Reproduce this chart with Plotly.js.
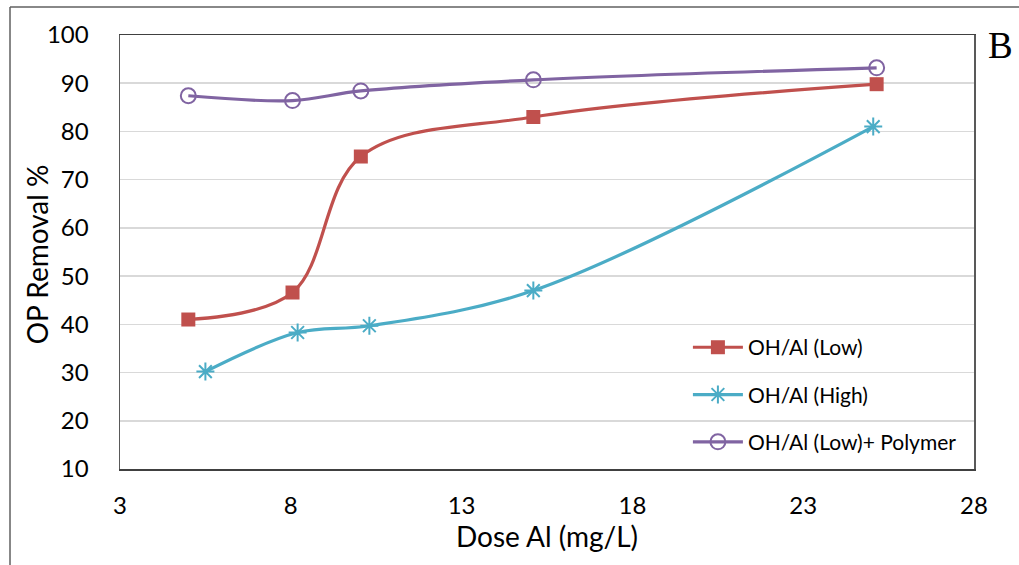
<!DOCTYPE html>
<html>
<head>
<meta charset="utf-8">
<script src="https://cdn.plot.ly/plotly-3.0.1.min.js"></script>
<style>html,body{margin:0;padding:0;background:#fff;}#chart{width:1019px;height:565px;}</style>
</head>
<body>
<div id="chart"></div>
<script>
// Data
const doseLow = [5.0, 8.05, 10.05, 15.1, 25.15];
const removalLow = [41.0, 46.6, 74.8, 83.0, 89.8];
const doseHigh = [5.5, 8.2, 10.3, 15.1, 25.05];
const removalHigh = [30.2, 38.3, 39.7, 47.0, 81.0];
const dosePoly = [5.0, 8.05, 10.05, 15.1, 25.15];
const removalPoly = [87.4, 86.4, 88.4, 90.7, 93.2];
const seriesNames = ["OH/Al (Low)", "OH/Al (High)", "OH/Al (Low)+ Polymer"];
const xTickVals = [3, 8, 13, 18, 23, 28];
const yTickVals = [10, 20, 30, 40, 50, 60, 70, 80, 90, 100];
const xTitle = "Dose Al (mg/L)";
const yTitle = "OP Removal %";

const FONT = "Lato, 'Open Sans', sans-serif";
const traces = [
  {x: doseLow, y: removalLow, name: seriesNames[0], legendgroup: "a",
   mode: "lines+markers", line: {color: "#C0504D", width: 3.2, shape: "spline", smoothing: 1},
   marker: {symbol: "square", size: 14, color: "#C0504D"}},
  {x: doseHigh, y: removalHigh, name: seriesNames[1], legendgroup: "b",
   mode: "lines+markers", line: {color: "#4BACC6", width: 3.2, shape: "spline", smoothing: 1},
   marker: {symbol: "asterisk-open", size: 15, color: "#4BACC6", line: {color: "#4BACC6", width: 2}}},
  {x: dosePoly, y: removalPoly, name: seriesNames[2], legendgroup: "c",
   mode: "lines+markers", line: {color: "#8064A2", width: 3.2, shape: "spline", smoothing: 1},
   marker: {symbol: "circle-open", size: 15, color: "#8064A2", line: {color: "#8064A2", width: 2}}}
];

const layout = {
  width: 1019, height: 565,
  margin: {l: 120, r: 45, t: 35, b: 96},
  paper_bgcolor: "#fff", plot_bgcolor: "#fff",
  font: {family: FONT, color: "#000"},
  showlegend: true,
  legend: {x: 0.665, xanchor: "left", y: 0.327, yanchor: "top",
    bgcolor: "rgba(0,0,0,0)", font: {family: FONT, size: 21, color: "#000"},
    traceorder: "grouped", tracegroupgap: 17, itemwidth: 50},
  xaxis: {range: [3, 28], tickvals: xTickVals, ticktext: xTickVals.map(String),
    showgrid: false, zeroline: false, showline: true, linecolor: "#404040", linewidth: 1.5, mirror: true,
    ticks: "", ticklabelstandoff: 15, tickfont: {family: FONT, size: 24, color: "#000"},
    title: {text: xTitle, font: {family: FONT, size: 28, color: "#000"}, standoff: 4}},
  yaxis: {range: [10, 100], tickvals: yTickVals, ticktext: yTickVals.map(String),
    showgrid: true, gridcolor: "#D9D9D9", gridwidth: 1.5, zeroline: false,
    showline: true, linecolor: "#595959", linewidth: 1.5, mirror: true,
    ticks: "", ticklabelstandoff: 25, tickfont: {family: FONT, size: 24, color: "#000"}},
  shapes: [
    {type: "line", xref: "paper", yref: "paper", x0: -0.1288, x1: 1.06, y0: 1.0645, y1: 1.0645,
     line: {color: "#606060", width: 1.5}},
    {type: "line", xref: "paper", yref: "paper", x0: -0.1288, x1: -0.1288, y0: 1.0645, y1: -0.23,
     line: {color: "#606060", width: 1.5}}
  ],
  annotations: [
    {text: yTitle, xref: "paper", yref: "paper", x: -0.097, y: 0.495, xanchor: "center", yanchor: "middle",
     textangle: -90, showarrow: false, font: {family: FONT, size: 28, color: "#000"}},
    {text: "B", xref: "paper", yref: "paper", x: 1.031, y: 0.975, xanchor: "center", yanchor: "middle",
     showarrow: false, font: {family: "'Liberation Serif', 'DejaVu Serif', serif", size: 37, color: "#000"}}
  ]
};

Plotly.newPlot("chart", traces, layout, {displayModeBar: false, staticPlot: true});
</script>
</body>
</html>
